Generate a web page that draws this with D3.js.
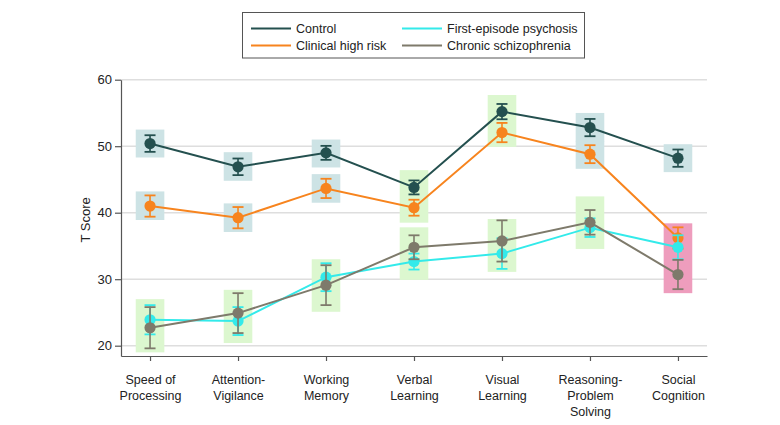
<!DOCTYPE html>
<html>
<head>
<meta charset="utf-8">
<script src="https://cdn.jsdelivr.net/npm/d3@7"></script>
<style>
  html, body { margin: 0; padding: 0; background: #fff; }
  svg { display: block; font-family: "Liberation Sans", Arial, sans-serif; }
</style>
</head>
<body>
<svg id="chart" width="780" height="425"></svg>
<script>
// ---------- data ----------
const categories = ["Speed of Processing", "Attention-Vigilance", "Working Memory",
  "Verbal Learning", "Visual Learning", "Reasoning-Problem Solving", "Social Cognition"];
const categoryLines = [["Speed of", "Processing"], ["Attention-", "Vigilance"], ["Working", "Memory"],
  ["Verbal", "Learning"], ["Visual", "Learning"], ["Reasoning-", "Problem", "Solving"], ["Social", "Cognition"]];

const seriesNames = ["Control", "Clinical high risk", "First-episode psychosis", "Chronic schizophrenia"];

const controlMean = [50.4, 46.9, 49.0, 43.8, 55.2, 52.8, 48.2];
const controlErr  = [1.25, 1.25, 1.05, 1.05, 1.15, 1.3, 1.3];
const chrMean     = [41.0, 39.25, 43.65, 40.75, 52.05, 48.8, 36.2];
const chrErr      = [1.6, 1.6, 1.45, 1.2, 1.45, 1.35, 1.6];
const fepMean     = [23.9, 23.7, 30.3, 32.65, 33.85, 37.75, 34.8];
const fepErr      = [2.2, 2.1, 2.1, 1.2, 2.3, 1.4, 1.8];
const chronicMean = [22.7, 24.9, 29.1, 34.8, 35.75, 38.55, 30.7];
const chronicErr  = [3.1, 3.0, 3.0, 1.8, 3.1, 1.85, 2.2];

const yTicks = [20, 30, 40, 50, 60];

// shaded boxes: [category index, low, high, kind]
const boxes = [
  [0, 48.3, 52.5, "blue"], [0, 38.9, 43.2, "blue"], [0, 19.0, 27.0, "green"],
  [1, 44.8, 49.1, "blue"], [1, 37.1, 41.4, "blue"], [1, 20.4, 28.4, "green"],
  [2, 46.8, 51.0, "blue"], [2, 41.5, 45.8, "blue"], [2, 25.1, 33.0, "green"],
  [3, 38.5, 46.4, "green"], [3, 29.9, 37.8, "green"],
  [4, 49.9, 57.7, "green"], [4, 31.1, 39.05, "green"],
  [5, 50.7, 55.0, "blue"], [5, 46.6, 50.8, "blue"], [5, 34.55, 42.45, "green"],
  [6, 46.1, 50.3, "blue"], [6, 27.9, 38.4, "pink"]
];

// ---------- styles ----------
const colors = ["#24504f", "#f7841e", "#33eaea", "#7e7a6b"];
const boxColors = { blue: "#cde3e5", green: "#dcf7cf", pink: "#ee9dbd" };

const seriesMeans = [controlMean, chrMean, fepMean, chronicMean];
const seriesErrs = [controlErr, chrErr, fepErr, chronicErr];

const svg = d3.select("#chart");
const mLeft = 121, mRight = 707, mTop = 79.7, mBottom = 356;

const x = d3.scalePoint().domain(categories).range([mLeft, mRight]).padding(0.33);
const y = d3.scaleLinear().domain([18.45, 60]).range([mBottom, mTop]);

// gridlines
svg.append("g").selectAll("line").data(yTicks).join("line")
  .attr("x1", mLeft).attr("x2", mRight)
  .attr("y1", d => y(d)).attr("y2", d => y(d))
  .attr("stroke", "#dedede").attr("stroke-width", 1.6);

// boxes
const bw = x.step() * 0.325;
svg.append("g").selectAll("rect").data(boxes).join("rect")
  .attr("x", d => x(categories[d[0]]) - bw / 2)
  .attr("width", bw)
  .attr("y", d => y(d[2]))
  .attr("height", d => y(d[1]) - y(d[2]))
  .attr("fill", d => boxColors[d[3]]);

// axes
const yAxis = svg.append("g").attr("transform", `translate(${mLeft},0)`)
  .call(d3.axisLeft(y).tickValues(yTicks).tickSize(6).tickSizeOuter(0).tickPadding(3));
const xAxis = svg.append("g").attr("transform", `translate(0,${mBottom})`)
  .call(d3.axisBottom(x).tickSize(5).tickSizeOuter(0));
[yAxis, xAxis].forEach(a => {
  a.select(".domain").attr("stroke", "#555").attr("stroke-width", 1.2);
  a.selectAll(".tick line").attr("stroke", "#555").attr("stroke-width", 1.2);
});
yAxis.selectAll(".tick text").attr("font-size", 13).attr("fill", "#222")
  .attr("font-family", "Liberation Sans, Arial, sans-serif");
xAxis.selectAll(".tick text").remove();
xAxis.selectAll(".tick").each(function(d, i) {
  const t = d3.select(this).append("text")
    .attr("text-anchor", "middle").attr("fill", "#222")
    .attr("font-size", 12.5).attr("font-family", "Liberation Sans, Arial, sans-serif");
  categoryLines[i].forEach((ln, j) => {
    t.append("tspan").attr("x", 0).attr("y", 28 + j * 16).text(ln);
  });
});

// y title
svg.append("text")
  .attr("transform", `translate(90,${(mTop + mBottom) / 2 + 2}) rotate(-90)`)
  .attr("text-anchor", "middle").attr("font-size", 13).attr("fill", "#222")
  .text("T Score");

// series
const line = d3.line().x((d, i) => x(categories[i])).y(d => y(d));
const capW = 5.5;
seriesMeans.forEach((means, s) => {
  const g = svg.append("g");
  const errs = seriesErrs[s];
  g.append("path").datum(means).attr("d", line)
    .attr("fill", "none").attr("stroke", colors[s]).attr("stroke-width", 2);
  const eb = g.selectAll("g.eb").data(means).join("g").attr("class", "eb");
  eb.append("line")
    .attr("x1", (d, i) => x(categories[i])).attr("x2", (d, i) => x(categories[i]))
    .attr("y1", (d, i) => y(d - errs[i])).attr("y2", (d, i) => y(d + errs[i]))
    .attr("stroke", colors[s]).attr("stroke-width", 1.6);
  [-1, 1].forEach(sign => {
    eb.append("line")
      .attr("x1", (d, i) => x(categories[i]) - capW).attr("x2", (d, i) => x(categories[i]) + capW)
      .attr("y1", (d, i) => y(d + sign * errs[i])).attr("y2", (d, i) => y(d + sign * errs[i]))
      .attr("stroke", colors[s]).attr("stroke-width", 1.8);
  });
  g.selectAll("circle").data(means).join("circle")
    .attr("cx", (d, i) => x(categories[i])).attr("cy", d => y(d))
    .attr("r", 5.6).attr("fill", colors[s]);
});

// legend
const lg = svg.append("g");
lg.append("rect").attr("x", 242.5).attr("y", 12.5).attr("width", 342).attr("height", 45.5)
  .attr("fill", "#fff").attr("stroke", "#555").attr("stroke-width", 1);
const legendPos = [[251, 28.5], [251, 45.5], [402, 28.5], [402, 45.5]];
seriesNames.forEach((name, i) => {
  const [lx, ly] = legendPos[i];
  lg.append("line").attr("x1", lx).attr("x2", lx + 40).attr("y1", ly).attr("y2", ly)
    .attr("stroke", colors[i]).attr("stroke-width", 2.2);
  lg.append("text").attr("x", lx + 45).attr("y", ly + 4.5).attr("font-size", 12.5)
    .attr("fill", "#222").text(name);
});
</script>
</body>
</html>
